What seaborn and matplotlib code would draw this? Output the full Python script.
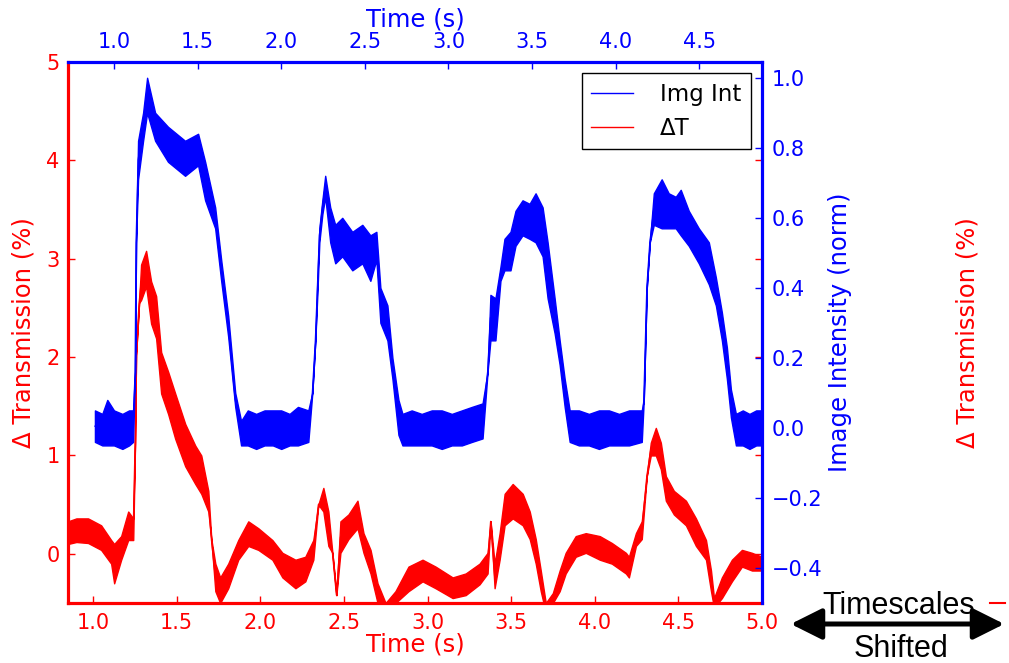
import numpy as np
import pandas as pd
import matplotlib
matplotlib.use("Agg")
import matplotlib.pyplot as plt
import seaborn as sns
from matplotlib.patches import FancyArrowPatch
from matplotlib.lines import Line2D

# ---------------- data ----------------
# Image intensity (normalised), plotted against the TOP time axis: time, lower / upper edge of the noisy trace
img_time = [0.886, 0.93, 0.96, 1.00, 1.05, 1.09, 1.114,
            1.126, 1.132, 1.144, 1.174, 1.198, 1.246, 1.323, 1.425, 1.503, 1.545, 1.605, 1.641, 1.683, 1.725, 1.760,
            1.80, 1.85, 1.90, 1.95, 2.00, 2.05, 2.10, 2.162,
            2.186, 2.204, 2.216, 2.228, 2.246, 2.263, 2.293, 2.323, 2.365, 2.425, 2.485, 2.533, 2.569, 2.593, 2.635,
            2.665, 2.701, 2.725,
            2.78, 2.84, 2.90, 2.96, 3.02, 3.08, 3.14, 3.204,
            3.234, 3.251, 3.281, 3.311, 3.335, 3.371, 3.401, 3.443, 3.485, 3.521, 3.563, 3.593, 3.635, 3.665, 3.695,
            3.725,
            3.78, 3.84, 3.90, 3.96, 4.02, 4.08, 4.156,
            4.168, 4.186, 4.204, 4.228, 4.275, 4.317, 4.359, 4.389, 4.437, 4.497, 4.557, 4.599, 4.635, 4.665, 4.689,
            4.719,
            4.76, 4.80, 4.84, 4.874]
img_lo = [-0.04, -0.05, -0.05, -0.05, -0.06, -0.05, -0.04,
          0.16, 0.53, 0.71, 0.82, 0.90, 0.82, 0.76, 0.72, 0.75, 0.65, 0.57, 0.42, 0.26, 0.06, -0.05,
          -0.05, -0.06, -0.05, -0.05, -0.06, -0.05, -0.05, -0.04,
          0.10, 0.25, 0.38, 0.53, 0.61, 0.66, 0.53, 0.47, 0.49, 0.45, 0.47, 0.42, 0.48, 0.30, 0.25,
          0.14, -0.02, -0.05,
          -0.05, -0.05, -0.05, -0.06, -0.05, -0.05, -0.04, -0.03,
          0.16, 0.25, 0.25, 0.42, 0.45, 0.45, 0.52, 0.55, 0.54, 0.53, 0.49, 0.37, 0.27, 0.18, 0.06,
          -0.04,
          -0.05, -0.05, -0.06, -0.05, -0.05, -0.05, -0.04,
          0.08, 0.40, 0.53, 0.58, 0.57, 0.57, 0.57, 0.55, 0.52, 0.47, 0.41, 0.35, 0.25, 0.14, 0.03,
          -0.05,
          -0.05, -0.06, -0.05, -0.05]
img_hi = [0.05, 0.04, 0.08, 0.05, 0.04, 0.05, 0.05,
          0.16, 0.53, 0.82, 0.90, 1.00, 0.90, 0.86, 0.82, 0.84, 0.76, 0.63, 0.48, 0.32, 0.10, 0.02,
          0.05, 0.04, 0.05, 0.05, 0.05, 0.04, 0.06, 0.05,
          0.10, 0.25, 0.42, 0.57, 0.65, 0.72, 0.63, 0.58, 0.60, 0.56, 0.58, 0.55, 0.56, 0.40, 0.35,
          0.20, 0.08, 0.04,
          0.05, 0.04, 0.05, 0.05, 0.04, 0.05, 0.06, 0.07,
          0.16, 0.38, 0.37, 0.46, 0.54, 0.56, 0.62, 0.65, 0.64, 0.67, 0.63, 0.53, 0.37, 0.25, 0.14,
          0.05,
          0.05, 0.04, 0.05, 0.05, 0.04, 0.05, 0.05,
          0.08, 0.40, 0.53, 0.67, 0.71, 0.67, 0.66, 0.68, 0.62, 0.57, 0.53, 0.43, 0.33, 0.23, 0.11,
          0.04,
          0.05, 0.04, 0.05, 0.05]

# Delta transmission (%), plotted against the BOTTOM time axis
dt_time = [0.85, 0.90, 0.97, 1.048, 1.108, 1.126, 1.168, 1.210, 1.240, 1.251, 1.257, 1.275, 1.287, 1.317,
           1.347, 1.377, 1.407, 1.449, 1.491, 1.551, 1.611, 1.647, 1.689, 1.707, 1.731, 1.760, 1.808, 1.868,
           1.928, 1.988, 2.072, 2.132, 2.210, 2.269, 2.317, 2.347, 2.377, 2.407, 2.431, 2.455, 2.479, 2.527,
           2.581, 2.617, 2.659, 2.701, 2.749, 2.808, 2.886, 2.970, 3.048, 3.150, 3.228, 3.311, 3.359, 3.377,
           3.401, 3.431, 3.461, 3.509, 3.569, 3.611, 3.647, 3.677, 3.707, 3.749, 3.790, 3.826, 3.886, 3.946,
           4.030, 4.102, 4.186, 4.204, 4.246, 4.281, 4.311, 4.335, 4.365, 4.395, 4.425, 4.473, 4.545, 4.605,
           4.665, 4.695, 4.713, 4.760, 4.820, 4.880, 4.940, 5.000]
dt_lo = [0.10, 0.12, 0.11, 0.04, -0.10, -0.30, -0.06, 0.14, 0.14, 1.13, 2.02, 2.55, 2.58, 2.72,
         2.34, 2.19, 1.63, 1.42, 1.17, 0.89, 0.71, 0.61, 0.43, 0.15, -0.38, -0.50, -0.35, -0.06,
         0.08, 0.04, -0.06, -0.24, -0.35, -0.28, -0.06, 0.50, 0.43, 0.08, 0.01, -0.42, 0.01, 0.15,
         0.26, 0.01, -0.20, -0.50, -0.65, -0.50, -0.38, -0.28, -0.35, -0.45, -0.42, -0.31, -0.20, 0.33,
         -0.35, -0.06, 0.29, 0.36, 0.29, 0.15, -0.10, -0.38, -0.60, -0.50, -0.38, -0.20, -0.03, 0.01,
         -0.06, -0.10, -0.20, -0.24, 0.08, 0.15, 0.79, 1.00, 1.00, 0.86, 0.54, 0.40, 0.29, 0.08,
         -0.06, -0.38, -0.55, -0.45, -0.28, -0.13, -0.17, -0.17]
dt_hi = [0.33, 0.36, 0.36, 0.29, 0.14, 0.10, 0.18, 0.43, 0.36, 1.13, 2.02, 2.55, 2.94, 3.08,
         2.77, 2.62, 2.05, 1.85, 1.63, 1.32, 1.10, 1.00, 0.64, 0.15, -0.10, -0.24, -0.10, 0.14,
         0.33, 0.26, 0.14, 0.01, -0.06, -0.03, 0.14, 0.50, 0.67, 0.43, 0.01, -0.42, 0.33, 0.40,
         0.54, 0.21, 0.04, -0.30, -0.50, -0.38, -0.13, -0.06, -0.13, -0.24, -0.20, -0.10, 0.01, 0.33,
         -0.10, 0.21, 0.61, 0.71, 0.61, 0.43, 0.15, -0.17, -0.50, -0.40, -0.17, 0.01, 0.18, 0.21,
         0.18, 0.11, 0.01, -0.03, 0.21, 0.33, 0.79, 1.13, 1.28, 1.13, 0.79, 0.64, 0.54, 0.36,
         0.14, -0.17, -0.45, -0.24, -0.06, 0.04, 0.01, -0.03]

bottom_ticks = [1.0, 1.5, 2.0, 2.5, 3.0, 3.5, 4.0, 4.5, 5.0]
bottom_labels = ["1.0", "1.5", "2.0", "2.5", "3.0", "3.5", "4.0", "4.5", "5.0"]
top_ticks = [1.0, 1.5, 2.0, 2.5, 3.0, 3.5, 4.0, 4.5]
top_labels = ["1.0", "1.5", "2.0", "2.5", "3.0", "3.5", "4.0", "4.5"]
left_ticks = [0, 1, 2, 3, 4, 5]
left_labels = ["0", "1", "2", "3", "4", "5"]
right_ticks = [-0.4, -0.2, 0.0, 0.2, 0.4, 0.6, 0.8, 1.0]
right_labels = ["\u22120.4", "\u22120.2", "0.0", "0.2", "0.4", "0.6", "0.8", "1.0"]

# ---------------- figure ----------------
plt.rcParams["font.family"] = ["DejaVu Sans"]
RED = "#ff0000"
BLUE = "#0000ff"
W, H = 1009, 663
fig = plt.figure(figsize=(W / 100, H / 100), dpi=100)
L, R, T, B = 68, 762, 62, 603
ax1 = fig.add_axes([L / W, 1 - B / H, (R - L) / W, (B - T) / H])
ax2 = ax1.twinx()
ax3 = ax2.twiny()


def band_frame(t, lo, hi):
    return pd.DataFrame({"t": list(t) + list(t), "v": list(lo) + list(hi)})


sns.lineplot(data=band_frame(dt_time, dt_lo, dt_hi), x="t", y="v", ax=ax1, color=RED,
             linewidth=0.9, estimator="mean", errorbar=("pi", 100),
             err_kws={"alpha": 1, "linewidth": 1.0, "edgecolor": RED, "facecolor": RED})
sns.lineplot(data=band_frame(img_time, img_lo, img_hi), x="t", y="v", ax=ax3, color=BLUE,
             linewidth=0.9, estimator="mean", errorbar=("pi", 100),
             err_kws={"alpha": 1, "linewidth": 1.0, "edgecolor": BLUE, "facecolor": BLUE})

ax1.set_xlim(0.85, 5.0)
ax1.set_ylim(-0.5, 5.0)
ax3.set_xlim(0.725, 4.875)
ax2.set_ylim(-0.5, 1.045)
ax3.set_ylim(-0.5, 1.045)

ax1.set_xticks(bottom_ticks, bottom_labels)
ax1.set_yticks(left_ticks, left_labels)
ax3.set_xticks(top_ticks, top_labels)
ax2.set_yticks(right_ticks, right_labels)

SPW = 2.3
for ax in (ax1, ax2, ax3):
    for s in ax.spines.values():
        s.set_visible(False)
ax1.spines["left"].set_visible(True)
ax1.spines["left"].set_color(RED)
ax1.spines["left"].set_linewidth(SPW)
ax1.spines["bottom"].set_visible(True)
ax1.spines["bottom"].set_color(RED)
ax1.spines["bottom"].set_linewidth(SPW)
ax2.spines["right"].set_visible(True)
ax2.spines["right"].set_color(BLUE)
ax2.spines["right"].set_linewidth(SPW)
ax3.spines["top"].set_visible(True)
ax3.spines["top"].set_color(BLUE)
ax3.spines["top"].set_linewidth(SPW)

TS = 15
ax1.tick_params(axis="y", direction="in", colors=RED, labelsize=TS, length=5, width=1,
                left=True, right=True, labelleft=True, labelright=False, pad=6)
ax1.tick_params(axis="x", direction="in", colors=RED, labelsize=TS, length=5, width=1,
                bottom=True, top=False, pad=7)
ax2.tick_params(axis="y", direction="in", colors=BLUE, labelsize=TS, length=5, width=1,
                right=True, left=False, pad=7)
ax3.tick_params(axis="x", direction="in", colors=BLUE, labelsize=TS, length=5, width=1,
                top=True, bottom=False, pad=7)

LS = 17.5
ax1.set_xlabel("Time (s)", color=RED, fontsize=LS, labelpad=0)
ax1.set_ylabel("\u0394 Transmission (%)", color=RED, fontsize=LS, labelpad=8)
ax3.set_xlabel("Time (s)", color=BLUE, fontsize=LS, labelpad=4)
ax2.set_ylabel("Image Intensity (norm)", color=BLUE, fontsize=LS, labelpad=4)
ax3.set_ylabel("")

handles = [Line2D([], [], color=BLUE, lw=1), Line2D([], [], color=RED, lw=1)]
leg = ax3.legend(handles, ["Img Int", "\u0394T"], loc="upper right", fontsize=16.5,
                 frameon=True, fancybox=False, shadow=False, framealpha=1,
                 borderaxespad=0.5, handlelength=1.8, handletextpad=1.2)
leg.get_frame().set_edgecolor("black")
leg.get_frame().set_linewidth(1.0)

# extra annotations on the right
fig.text(968 / W, 1 - 333 / H, "\u0394 Transmission (%)", color=RED, fontsize=LS,
         rotation=90, ha="center", va="center")
fig.add_artist(Line2D([990 / W, 1005 / W], [1 - 603 / H, 1 - 603 / H], color=RED, lw=1.5))
arrow = FancyArrowPatch((788 / W, 1 - 624 / H), (1007 / W, 1 - 624 / H), transform=fig.transFigure,
                        arrowstyle="<|-|>,head_length=1.9,head_width=0.95", mutation_scale=10,
                        color="black", linewidth=3.6)
fig.add_artist(arrow)
fig.text(899 / W, 1 - 606 / H, "Timescales", fontsize=22, family="Liberation Sans",
         ha="center", va="center", color="black")
fig.text(901 / W, 1 - 649 / H, "Shifted", fontsize=22, family="Liberation Sans",
         ha="center", va="center", color="black")

fig.savefig("out.png", dpi=100)
